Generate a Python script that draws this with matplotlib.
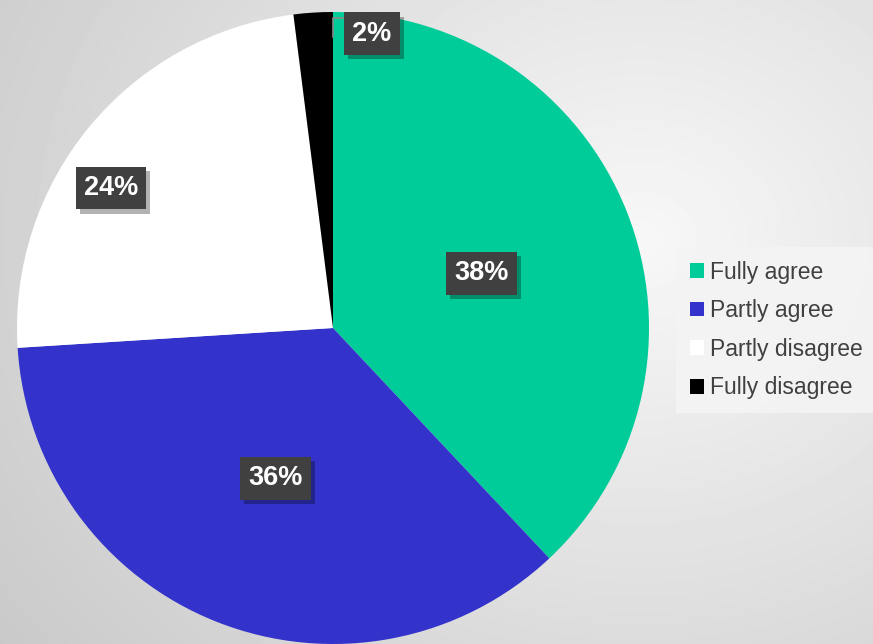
import numpy as np
import matplotlib.pyplot as plt
import matplotlib.patheffects as pe
from matplotlib.patches import Patch

labels = ['Fully agree', 'Partly agree', 'Partly disagree', 'Fully disagree']
shares = [38, 36, 24, 2]
colors = ['#00cc99', '#3333cc', '#ffffff', '#000000']
pct_text = ['38%', '36%', '24%', '2%']

plt.rcParams['font.family'] = ['Liberation Sans', 'DejaVu Sans']

W, H = 873, 644
fig = plt.figure(figsize=(W / 100, H / 100), dpi=100)

# background: soft radial gradient
bg = fig.add_axes([0, 0, 1, 1])
yy, xx = np.mgrid[0:H, 0:W]
r = np.hypot((xx - 640) / 700.0, (yy - 240) / 600.0)
shade = np.clip(0.97 - 0.16 * r, 0.78, 1)
bg.imshow(shade, cmap='gray', vmin=0, vmax=1, extent=[0, W, H, 0], aspect='auto')
bg.axis('off')

# pie: centre (333, 328) px, radius 316 px
cx, cy, rad = 333, 328, 316
ax = fig.add_axes([(cx - rad) / W, (H - cy - rad) / H, 2 * rad / W, 2 * rad / H])
wedges, _ = ax.pie(shares, colors=colors, startangle=90, counterclock=False,
                   radius=1, wedgeprops=dict(linewidth=0))
ax.set_xlim(-1, 1)
ax.set_ylim(-1, 1)
ax.set_aspect('equal')
ax.axis('off')

# label radius and angle nudge (deg) from each wedge's mid-angle
label_r = [0.50, 0.51, 0.83, 0.94]
label_nudge = [-1.4, 0.6, 7.4, -11.1]
angle = 90
for i, s in enumerate(shares):
    mid = np.deg2rad(angle - s * 3.6 / 2 + label_nudge[i])
    angle -= s * 3.6
    x = label_r[i] * np.cos(mid)
    y = label_r[i] * np.sin(mid)
    if i == 3:
        # small leader line for the thin slice
        ax.plot([0.04, 0.0, 0.0], [0.98, 0.98, 0.92], color='#888888', lw=1.2, zorder=5)
    t = ax.text(x, y, pct_text[i], ha='center', va='center', fontsize=19.5,
                fontweight='bold', color='white', zorder=6,
                bbox=dict(boxstyle='square,pad=0.3', fc='#404040', ec='none', lw=0))
    t.get_bbox_patch().set_path_effects([
        pe.SimplePatchShadow(offset=(3, -3), shadow_rgbFace='black', alpha=0.3),
        pe.Normal()])

handles = [Patch(facecolor=c, edgecolor='none') for c in colors]
leg = fig.legend(handles, labels, loc='center left', bbox_to_anchor=(676 / W, 1 - 330 / H),
                 frameon=True, fontsize=16.5, labelcolor='#404040',
                 handlelength=0.6, handleheight=0.6, handletextpad=0.3,
                 labelspacing=0.68, borderpad=0.6, borderaxespad=0, fancybox=False)
leg.get_frame().set_facecolor('#f4f4f4')
leg.get_frame().set_edgecolor('none')
leg.get_frame().set_alpha(0.9)

fig.savefig('out.png', dpi=100)
